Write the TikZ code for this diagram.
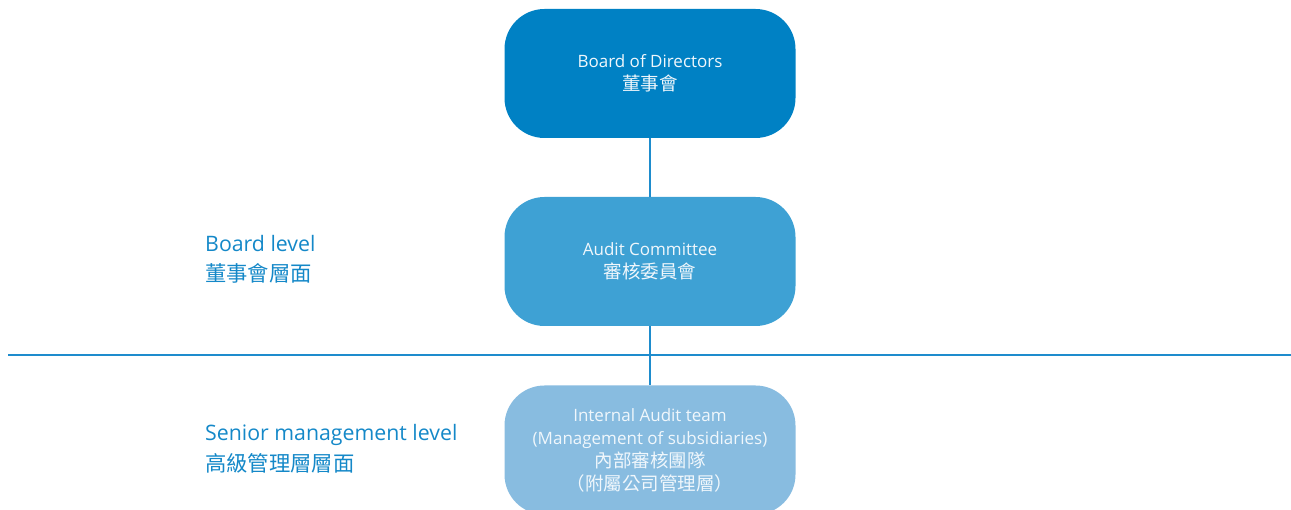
\documentclass[tikz,border=0pt]{standalone}
\usepackage{fontspec}
\setmainfont{Open Sans}
\newfontfamily\cjk{Noto Sans CJK TC}
\newcommand\bcjk{\cjk\fontsize{18.5}{23}\selectfont}
\definecolor{boardc}{RGB}{0,129,196}
\definecolor{auditc}{RGB}{62,161,212}
\definecolor{teamc}{RGB}{136,188,224}
\definecolor{linec}{RGB}{30,140,205}
\definecolor{labelc}{RGB}{20,136,200}
\definecolor{textc}{RGB}{240,247,252}
\tikzset{
  orgbox/.style={rounded corners=40pt, minimum width=291pt, minimum height=129pt,
    inner sep=0pt, align=center, text=textc, font=\fontsize{17}{23}\selectfont},
  conn/.style={draw=linec, line width=1.8pt},
  lvl/.style={anchor=north west, align=left, text=labelc, inner sep=0pt,
    font=\fontsize{21.3}{30.5}\selectfont},
}
\begin{document}
\begin{tikzpicture}[x=1pt,y=-1pt]
\useasboundingbox (0,0) rectangle (1291,510);
\node[orgbox, fill=boardc] (board) at (650,73.5) {Board of Directors\\{\bcjk 董事會}};
\node[orgbox, fill=auditc] (audit) at (650,261.5) {Audit Committee\\{\bcjk 審核委員會}};
\node[orgbox, fill=teamc] (team) at (650,450) {Internal Audit team\\(Management of subsidiaries)\\{\bcjk 內部審核團隊}\\{\bcjk （附屬公司管理層）}};
\draw[conn] (board.south) -- (audit.north);
\coordinate (sepL) at (8,355);
\coordinate (sepR) at (1291,355);
\draw[conn] (sepL) -- (sepR);
\draw[conn] (audit.south) -- (team.north);
\node[lvl] (boardlvl) at (205,235) {Board level\\{\cjk 董事會層面}};
\node[lvl] (seniorlvl) at (205,424.5) {Senior management level\\{\cjk 高級管理層層面}};
\end{tikzpicture}
\end{document}
